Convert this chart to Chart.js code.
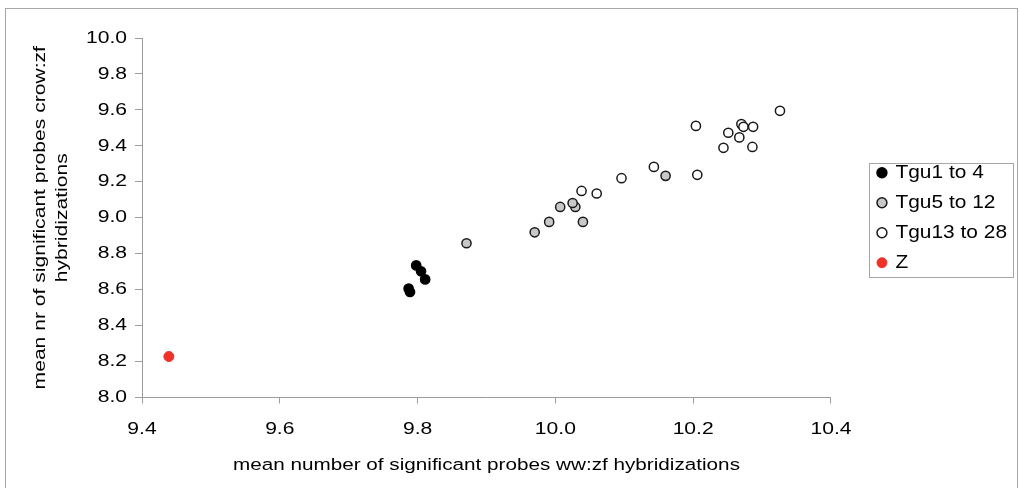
<!DOCTYPE html>
<html>
<head>
<meta charset="utf-8">
<script src="https://cdn.jsdelivr.net/npm/chart.js@4.4.1/dist/chart.umd.min.js"></script>
<style>
  html, body { margin: 0; padding: 0; background: #ffffff; }
  #wrap { width: 1019px; height: 488px; }
</style>
</head>
<body>
<div id="wrap"><canvas id="c" width="1019" height="488"></canvas></div>
<script>
// ---- Data ----
const seriesNames = ['Tgu1 to 4', 'Tgu5 to 12', 'Tgu13 to 28', 'Z'];

const tgu1to4X = [9.798, 9.805, 9.811, 9.787, 9.789];
const tgu1to4Y = [8.735, 8.702, 8.657, 8.606, 8.587];

const tgu5to12X = [9.871, 9.970, 9.991, 10.040, 10.007, 10.029, 10.025, 10.160];
const tgu5to12Y = [8.858, 8.919, 8.977, 8.977, 9.060, 9.060, 9.082, 9.233];

const tgu13to28X = [10.038, 10.060, 10.096, 10.143, 10.206, 10.204, 10.244, 10.286, 10.251, 10.267, 10.270, 10.273, 10.287, 10.326];
const tgu13to28Y = [9.149, 9.135, 9.220, 9.283, 9.239, 9.511, 9.389, 9.394, 9.473, 9.447, 9.521, 9.506, 9.506, 9.595];

const zX = [9.439];
const zY = [8.228];

const xTickRange = [9.4, 10.4, 0.2];
const yTickRange = [8.0, 10.0, 0.2];

const xTitle = 'mean number of significant probes ww:zf hybridizations';
const yTitle = ['mean nr of significant probes crow:zf', 'hybridizations'];

// ---- helpers ----
function pairs(xs, ys) { return xs.map((x, i) => ({ x: x, y: ys[i] })); }

const canvas = document.getElementById('c');
const ctx = canvas.getContext('2d');

// The reference renders its text noticeably wider than Arial; emulate that.
const proto = CanvasRenderingContext2D.prototype;
const baseFill = proto.fillText;
const baseMeasure = proto.measureText;
function stretchFor(c) {
  if (/19px/.test(c.font)) return 1.10;
  if (/17\.1px/.test(c.font)) return 1.21;
  return 1.24;
}
ctx.fillText = function (t, x, y, mw) {
  const s = stretchFor(this);
  this.save();
  this.translate(x, y);
  this.scale(s, 1);
  if (mw !== undefined) baseFill.call(this, t, 0, 0, mw / s);
  else baseFill.call(this, t, 0, 0);
  this.restore();
};
ctx.measureText = function (t) {
  const m = baseMeasure.call(this, t);
  const s = stretchFor(this);
  return {
    width: m.width * s,
    actualBoundingBoxAscent: m.actualBoundingBoxAscent,
    actualBoundingBoxDescent: m.actualBoundingBoxDescent,
    actualBoundingBoxLeft: m.actualBoundingBoxLeft * s,
    actualBoundingBoxRight: m.actualBoundingBoxRight * s,
    fontBoundingBoxAscent: m.fontBoundingBoxAscent,
    fontBoundingBoxDescent: m.fontBoundingBoxDescent
  };
};

const FONT = "'Liberation Sans', Arial, sans-serif";
const AXIS_GREY = '#9c9c9c';

const framePlugin = {
  id: 'frame',
  beforeDraw(chart) {
    const c = chart.ctx;
    c.save();
    c.fillStyle = '#ffffff';
    c.fillRect(0, 0, chart.width, chart.height);
    c.strokeStyle = '#a6a6a6';
    c.lineWidth = 1;
    c.strokeRect(5.5, 8.5, 1012, 490);
    c.restore();
  },
  afterDraw(chart) {
    const lg = chart.legend;
    if (!lg || !lg.legendHitBoxes || !lg.legendHitBoxes.length) return;
    const hb = lg.legendHitBoxes;
    const first = hb[0], last = hb[hb.length - 1];
    const left = Math.round(first.left) - 9 + 0.5;
    const top = Math.round(first.top) + 0.5;
    const bottom = Math.round(last.top + last.height) + 5 + 0.5;
    const right = 1013.5;
    const c = chart.ctx;
    c.save();
    c.strokeStyle = '#a6a6a6';
    c.lineWidth = 1;
    c.strokeRect(left, top, right - left, bottom - top);
    c.restore();
  }
};

const tickFmt = v => Number(v).toFixed(1);

new Chart(ctx, {
  type: 'scatter',
  data: {
    datasets: [
      { label: seriesNames[0], data: pairs(tgu1to4X, tgu1to4Y),
        backgroundColor: '#000000', borderColor: '#000000', borderWidth: 1.5,
        pointRadius: 4.6, pointHoverRadius: 4.6, xAxisID: 'x', yAxisID: 'y' },
      { label: seriesNames[1], data: pairs(tgu5to12X, tgu5to12Y),
        backgroundColor: '#c8c8c8', borderColor: '#1a1a1a', borderWidth: 1.5,
        pointRadius: 4.6, pointHoverRadius: 4.6, xAxisID: 'x', yAxisID: 'y' },
      { label: seriesNames[2], data: pairs(tgu13to28X, tgu13to28Y),
        backgroundColor: '#ffffff', borderColor: '#1a1a1a', borderWidth: 1.5,
        pointRadius: 4.6, pointHoverRadius: 4.6, xAxisID: 'x', yAxisID: 'y' },
      { label: seriesNames[3], data: pairs(zX, zY),
        backgroundColor: '#ee3129', borderColor: '#ee3129', borderWidth: 1,
        pointRadius: 5, pointHoverRadius: 5, xAxisID: 'x', yAxisID: 'y' }
    ]
  },
  options: {
    responsive: false,
    animation: false,
    devicePixelRatio: 1,
    layout: { padding: { top: 38, right: 2, bottom: 0, left: 0 } },
    plugins: {
      tooltip: { enabled: false },
      legend: {
        display: true,
        position: 'right',
        align: 'center',
        fullSize: false,
        labels: {
          usePointStyle: true,
          pointStyle: 'circle',
          boxWidth: 8,
          boxHeight: 7,
          padding: 11,
          color: '#000000',
          font: { family: FONT, size: 19 }
        }
      }
    },
    scales: {
      x: {
        type: 'linear',
        position: 'bottom',
        min: xTickRange[0],
        max: xTickRange[1],
        afterFit(s) { s.height = 90.5; },
        ticks: {
          stepSize: xTickRange[2],
          callback: tickFmt,
          color: '#000000',
          padding: 16,
          font: { family: FONT, size: 17 },
          maxRotation: 0
        },
        grid: { display: true, drawOnChartArea: false, drawTicks: true, tickLength: 6, color: AXIS_GREY, tickColor: AXIS_GREY },
        border: { display: true, color: AXIS_GREY, width: 1 },
        title: {
          display: true, text: xTitle, color: '#000000',
          font: { family: FONT, size: 17.1, lineHeight: 1.2 },
          padding: { top: 0, bottom: 12.8 }
        }
      },
      y: {
        type: 'linear',
        position: 'left',
        min: yTickRange[0],
        max: yTickRange[1],
        afterFit(s) { s.width = 142; },
        ticks: {
          stepSize: yTickRange[2],
          callback: tickFmt,
          color: '#000000',
          padding: 8,
          font: { family: FONT, size: 17 }
        },
        grid: { display: true, drawOnChartArea: false, drawTicks: true, tickLength: 7, color: AXIS_GREY, tickColor: AXIS_GREY },
        border: { display: true, color: AXIS_GREY, width: 1 },
        title: {
          display: true, text: yTitle, color: '#000000',
          font: { family: FONT, size: 17, lineHeight: 1.32 },
          padding: { top: 28.8, bottom: 0 }
        }
      },
      gap: {
        type: 'linear',
        position: 'right',
        display: true,
        afterFit(s) { s.width = 36; },
        ticks: { display: false },
        grid: { display: false },
        border: { display: false },
        title: { display: false }
      }
    }
  },
  plugins: [framePlugin]
});
</script>
</body>
</html>
